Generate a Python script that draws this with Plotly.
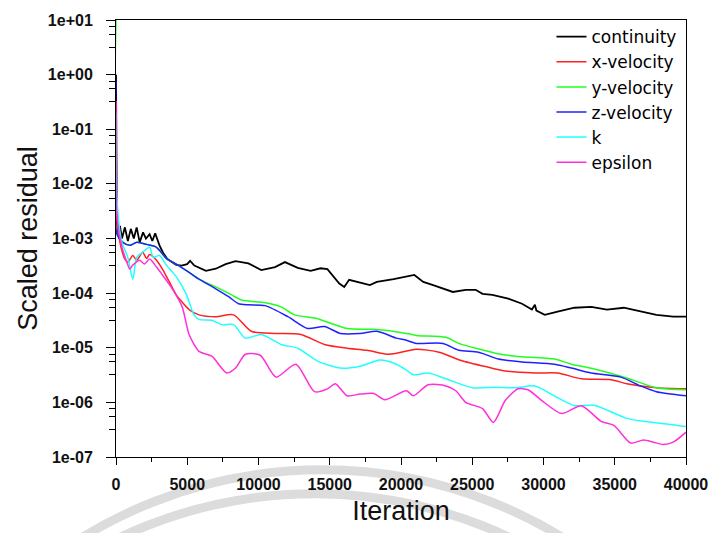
import plotly.graph_objects as go

# ---------------- data ----------------
cont_it = [0, 60, 139, 277, 416, 624, 832, 1040, 1250, 1450, 1664, 1900, 2100, 2357, 2550, 2750,
           3051, 3300, 3605, 4229, 4600, 4992, 5200, 5500, 6309, 7000, 7696, 8389, 9290, 10191,
           11162, 11855, 12756, 13658, 14351, 14836, 15668, 16015, 16362, 17402, 17818, 18303,
           19482, 20938, 21562, 22255, 23156, 23642, 24543, 25236, 25721, 26414, 27524, 28494,
           29188, 29396, 29500, 30089, 30990, 32169, 33348, 34457, 35636, 36814, 37923, 39102, 40000]
cont_val = [1.0, 2.0e-3, 1.2e-3, 1.7e-3, 1.0e-3, 1.6e-3, 9.0e-4, 1.5e-3, 1.0e-3, 1.6e-3, 8.5e-4,
            1.3e-3, 1.0e-3, 1.2e-3, 9.0e-4, 1.25e-3, 7.5e-4, 5.5e-4, 4.2e-4, 3.3e-4, 3.2e-4,
            3.4e-4, 3.9e-4, 3.2e-4, 2.55e-4, 2.8e-4, 3.4e-4, 3.85e-4, 3.5e-4, 2.65e-4, 3.0e-4,
            3.7e-4, 2.9e-4, 2.55e-4, 2.85e-4, 2.75e-4, 1.5e-4, 1.3e-4, 1.75e-4, 1.5e-4, 1.4e-4,
            1.6e-4, 1.8e-4, 2.15e-4, 1.6e-4, 1.4e-4, 1.15e-4, 1.05e-4, 1.15e-4, 1.15e-4, 9.7e-5,
            9.3e-5, 7.9e-5, 6.4e-5, 5.0e-5, 6.1e-5, 4.8e-5, 4.0e-5, 4.6e-5, 5.4e-5, 5.6e-5,
            5.0e-5, 5.4e-5, 4.6e-5, 4.0e-5, 3.7e-5, 3.7e-5]

xvel_it = [0, 69, 277, 624, 832, 1179, 1456, 1872, 2149, 2357, 2843, 3259, 3744, 4229, 5130,
           5824, 7002, 8250, 9498, 11162, 12965, 14629, 16223, 17610, 18997, 19690, 21076,
           22671, 24335, 26623, 27316, 29396, 30990, 32654, 34734, 35843, 37923, 40000]
xvel_val = [0.3, 2.2e-3, 8.5e-4, 4.2e-4, 3.7e-4, 4.9e-4, 4.0e-4, 5.6e-4, 4.3e-4, 5.1e-4, 4.0e-4,
            2.75e-4, 1.6e-4, 9.3e-5, 5.0e-5, 4.0e-5, 3.7e-5, 4.0e-5, 2.0e-5, 1.83e-5, 1.75e-5,
            1.15e-5, 9.8e-6, 9.0e-6, 7.6e-6, 7.9e-6, 9.4e-6, 8.3e-6, 5.7e-6, 4.1e-6, 3.75e-6,
            3.45e-6, 3.45e-6, 2.7e-6, 2.6e-6, 2.2e-6, 1.85e-6, 1.77e-6]

yvel_it = [0, 69, 485, 971, 1456, 2149, 2843, 3536, 4229, 5130, 5824, 7002, 8112, 8805, 10469,
           11578, 12549, 14143, 16223, 18095, 20383, 21076, 23156, 24058, 26623, 28009, 30782,
           31961, 33556, 35843, 37923, 40000]
yvel_val = [10.0, 1.2e-3, 8.5e-4, 7.5e-4, 8.5e-4, 7.8e-4, 6.9e-4, 4.3e-4, 3.4e-4, 2.4e-4, 1.8e-4,
            1.3e-4, 9.3e-5, 7.5e-5, 6.65e-5, 5.6e-5, 4.0e-5, 3.4e-5, 2.25e-5, 2.17e-5, 1.83e-5,
            1.68e-5, 1.55e-5, 1.2e-5, 7.95e-6, 7.0e-6, 6.2e-6, 5.0e-6, 4.1e-6, 2.8e-6, 1.85e-6, 1.7e-6]

zvel_it = [0, 69, 485, 971, 1456, 2149, 2843, 3536, 4229, 5130, 5824, 7002, 7904, 8597, 9290,
           10469, 12063, 13450, 14629, 15738, 17125, 18303, 19690, 20383, 21076, 22948, 24058,
           25444, 26831, 28494, 30782, 31961, 33348, 35428, 36814, 37923, 40000]
zvel_val = [0.75, 1.2e-3, 8.5e-4, 7.5e-4, 8.5e-4, 7.8e-4, 6.9e-4, 4.3e-4, 3.4e-4, 2.4e-4, 1.8e-4,
            1.2e-4, 8.6e-5, 6.4e-5, 6.1e-5, 5.9e-5, 3.7e-5, 2.25e-5, 2.45e-5, 1.83e-5, 1.83e-5,
            2.0e-5, 1.5e-5, 1.37e-5, 1.2e-5, 1.2e-5, 9.0e-6, 8.3e-6, 6.2e-6, 5.5e-6, 5.0e-6,
            4.25e-6, 3.45e-6, 2.9e-6, 2.0e-6, 1.57e-6, 1.32e-6]

k_it = [0, 69, 416, 832, 1179, 1456, 1872, 2357, 2600, 3051, 3536, 4229, 4922, 5477, 5824, 6725,
        7418, 8250, 9082, 10191, 11578, 12757, 14143, 15738, 17125, 18511, 19482, 20383, 20869,
        21908, 23156, 25028, 26623, 28009, 29396, 30990, 32169, 33556, 35843, 37022, 38894, 40000]
k_val = [0.2, 5.1e-3, 8.5e-4, 4.5e-4, 1.8e-4, 4.5e-4, 5.6e-4, 6.9e-4, 4.5e-4, 4.9e-4, 3.25e-4,
         2.0e-4, 9.7e-5, 4.0e-5, 3.3e-5, 3.2e-5, 2.65e-5, 2.65e-5, 1.5e-5, 1.75e-5, 1.15e-5,
         9.8e-6, 5.7e-6, 4.25e-6, 4.6e-6, 5.95e-6, 5.25e-6, 3.9e-6, 3.2e-6, 3.45e-6, 2.7e-6,
         1.85e-6, 1.9e-6, 1.85e-6, 2.0e-6, 1.22e-6, 8.7e-7, 8.9e-7, 5.1e-7, 4.5e-7, 3.95e-7, 3.6e-7]

eps_it = [0, 69, 416, 763, 971, 1179, 1664, 2000, 2357, 2843, 3259, 3952, 4645, 5130, 5824, 6725,
          7765, 8389, 9082, 10122, 11231, 12618, 13935, 14836, 15391, 16223, 17125, 18095, 18858,
          20383, 20869, 21908, 23156, 23850, 24543, 25721, 26484, 27316, 28217, 28910, 29881,
          31268, 32654, 34041, 34942, 36121, 37022, 37715, 38409, 39102, 40000]
eps_val = [0.33, 2.4e-3, 6.9e-4, 3.7e-4, 2.75e-4, 3.25e-4, 4.0e-4, 3.4e-4, 4.2e-4, 3.0e-4,
           2.15e-4, 1.2e-4, 5.6e-5, 1.75e-5, 8.6e-6, 7.0e-6, 3.45e-6, 4.25e-6, 7.6e-6, 7.3e-6,
           2.9e-6, 5.0e-6, 1.57e-6, 1.77e-6, 2.2e-6, 1.32e-6, 1.42e-6, 1.45e-6, 1.12e-6, 1.63e-6,
           1.32e-6, 2.1e-6, 2.0e-6, 1.63e-6, 1.0e-6, 7.7e-7, 4.3e-7, 1.08e-6, 1.77e-6, 1.7e-6,
           1.08e-6, 6.25e-7, 8.7e-7, 4.5e-7, 3.8e-7, 1.8e-7, 2.05e-7, 1.87e-7, 1.7e-7, 1.87e-7, 2.85e-7]

series_names = ["continuity", "x-velocity", "y-velocity", "z-velocity", "k", "epsilon"]
series_colors = ["#000000", "#ff2020", "#20ff20", "#2020ff", "#20ffff", "#ff30d8"]

x_tickvals = [0, 5000, 10000, 15000, 20000, 25000, 30000, 35000, 40000]
x_ticktext = ["0", "5000", "10000", "15000", "20000", "25000", "30000", "35000", "40000"]
x_minor = [2500, 7500, 12500, 17500, 22500, 27500, 32500, 37500]
y_tickvals = [1e-7, 1e-6, 1e-5, 1e-4, 1e-3, 1e-2, 1e-1, 1e0, 1e1]
y_ticktext = ["1e-07", "1e-06", "1e-05", "1e-04", "1e-03", "1e-02", "1e-01", "1e+00", "1e+01"]
y_minor_mult = [3.2, 5.5, 7.6]
y_minor = [m * d for d in y_tickvals[:-1] for m in y_minor_mult]

# ---------------- figure ----------------
fig = go.Figure()
data = [(cont_it, cont_val), (xvel_it, xvel_val), (yvel_it, yvel_val),
        (zvel_it, zvel_val), (k_it, k_val), (eps_it, eps_val)]
for (xs, ys), name, col in zip(data, series_names, series_colors):
    if name == "continuity":
        ln = dict(color=col, width=1.8)
    else:
        ln = dict(color=col, width=1.5, shape="spline", smoothing=0.7)
    fig.add_trace(go.Scatter(x=xs, y=ys, mode="lines", name=name, line=ln))

FONT = "Liberation Sans, Arial, sans-serif"

fig.update_layout(
    width=720, height=533,
    margin=dict(l=116, r=27, t=15, b=76),
    paper_bgcolor="white", plot_bgcolor="white",
    font=dict(family=FONT, color="black"),
    showlegend=True,
    legend=dict(x=0.764, y=1.002, xanchor="left", yanchor="top",
                bgcolor="rgba(0,0,0,0)", borderwidth=0, itemwidth=30,
                font=dict(family="DejaVu Sans", size=17, color="black"),
                tracegroupgap=0),
)

fig.update_xaxes(
    range=[0, 40000], showline=True, linecolor="black", linewidth=1, mirror=True,
    showgrid=False, zeroline=False,
    tickmode="array", tickvals=x_tickvals, ticktext=x_ticktext,
    ticks="outside", ticklen=7, tickcolor="black", tickwidth=1, ticklabelstandoff=6,
    tickfont=dict(family=FONT, size=16, weight="bold", color="#111"),
    minor=dict(tickmode="array", tickvals=x_minor, ticks="outside", ticklen=4,
               tickcolor="black", showgrid=False),
    title=dict(text="Iteration", font=dict(family=FONT, size=27, color="#111"), standoff=8),
)
fig.update_yaxes(
    type="log", range=[-7, 1], showline=True, linecolor="black", linewidth=1, mirror=True,
    showgrid=False, zeroline=False,
    tickmode="array", tickvals=y_tickvals, ticktext=y_ticktext,
    ticks="outside", ticklen=9, tickcolor="black", tickwidth=1, ticklabelstandoff=10,
    tickfont=dict(family=FONT, size=16, weight="bold", color="#111"),
    minor=dict(tickmode="array", tickvals=y_minor, ticks="outside", ticklen=6,
               tickcolor="black", showgrid=False),
    title=dict(text="Scaled residual", font=dict(family=FONT, size=27, color="#111"), standoff=2),
)

# watermark arcs in the bottom margin (decoration)
for (x0, x1, y0, y1) in [(-0.444, 1.168, -0.029, -2.133), (-0.452, 1.149, -0.084, -2.174)]:
    fig.add_shape(type="circle", xref="paper", yref="paper", x0=x0, x1=x1, y0=y0, y1=y1,
                  line=dict(color="#dcdcdc", width=9), layer="below")

fig.write_html("out.html")
